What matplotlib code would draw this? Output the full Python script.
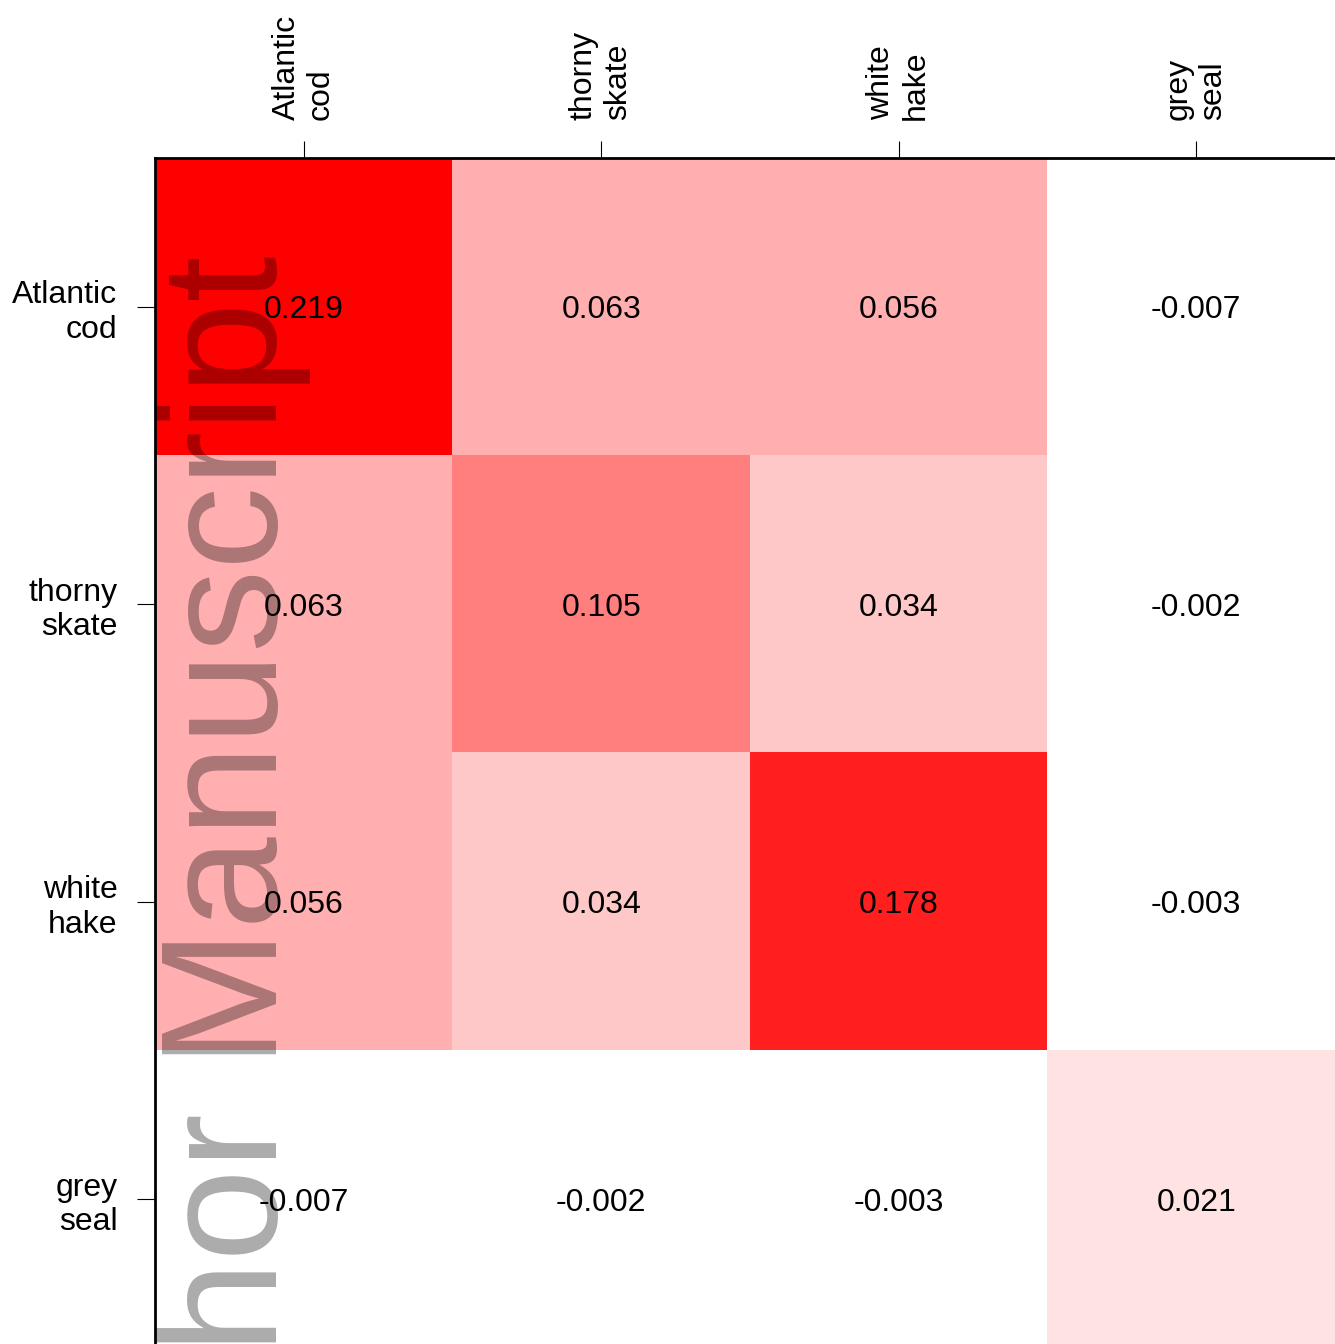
import numpy as np
import matplotlib
matplotlib.use("Agg")
import matplotlib.pyplot as plt
from matplotlib.colors import ListedColormap, BoundaryNorm

plt.rcParams['font.family'] = ['Liberation Sans', 'DejaVu Sans']

species = ["Atlantic\ncod", "thorny\nskate", "white\nhake", "grey\nseal"]

# covariance values, row by row
cod = [0.219, 0.063, 0.056, -0.007]
skate = [0.063, 0.105, 0.034, -0.002]
hake = [0.056, 0.034, 0.178, -0.003]
seal = [-0.007, -0.002, -0.003, 0.021]

# white -> red colour classes
breaks = [-0.05, 0.0, 0.025, 0.045, 0.08, 0.14, 0.2, 0.25]
shades = ["#FFFFFF", "#FFE3E3", "#FFC8C8", "#FFAFAF", "#FF7F7F", "#FF1F1F", "#FF0000"]

vals = np.array([cod, skate, hake, seal])
cmap = ListedColormap(shades)
norm = BoundaryNorm(breaks, cmap.N)

W, H = 1335, 1344
fig = plt.figure(figsize=(W / 100, H / 100), dpi=100)
side = 1190
ax = fig.add_axes([155 / W, (H - 158 - side) / H, side / W, side / H])

ax.imshow(vals, cmap=cmap, norm=norm, aspect='auto', interpolation='nearest')

for i in range(vals.shape[0]):
    for j in range(vals.shape[1]):
        ax.text(j, i, "%.3f" % vals[i, j], ha='center', va='center_baseline',
                fontsize=23, color='black')

ax.xaxis.tick_top()
ax.set_xticks(range(len(species)))
ax.set_yticks(range(len(species)))
ax.set_xticklabels(species, rotation=90, multialignment='left')
ax.set_yticklabels(species)
ax.tick_params(axis='x', length=12.5, width=0.8, pad=15, labelsize=23)
ax.tick_params(axis='y', length=13, width=0.8, pad=14, labelsize=23)

for s in ['right', 'bottom']:
    ax.spines[s].set_visible(False)
for s in ['top', 'left']:
    ax.spines[s].set_linewidth(2)

# watermark
fig.text(277 / W, 1 - 255 / H, "Author Manuscript", rotation=90,
         rotation_mode='anchor', ha='right', va='baseline',
         fontsize=119.5, color='black', alpha=0.33, zorder=10)

fig.savefig("out.png", dpi=100)
